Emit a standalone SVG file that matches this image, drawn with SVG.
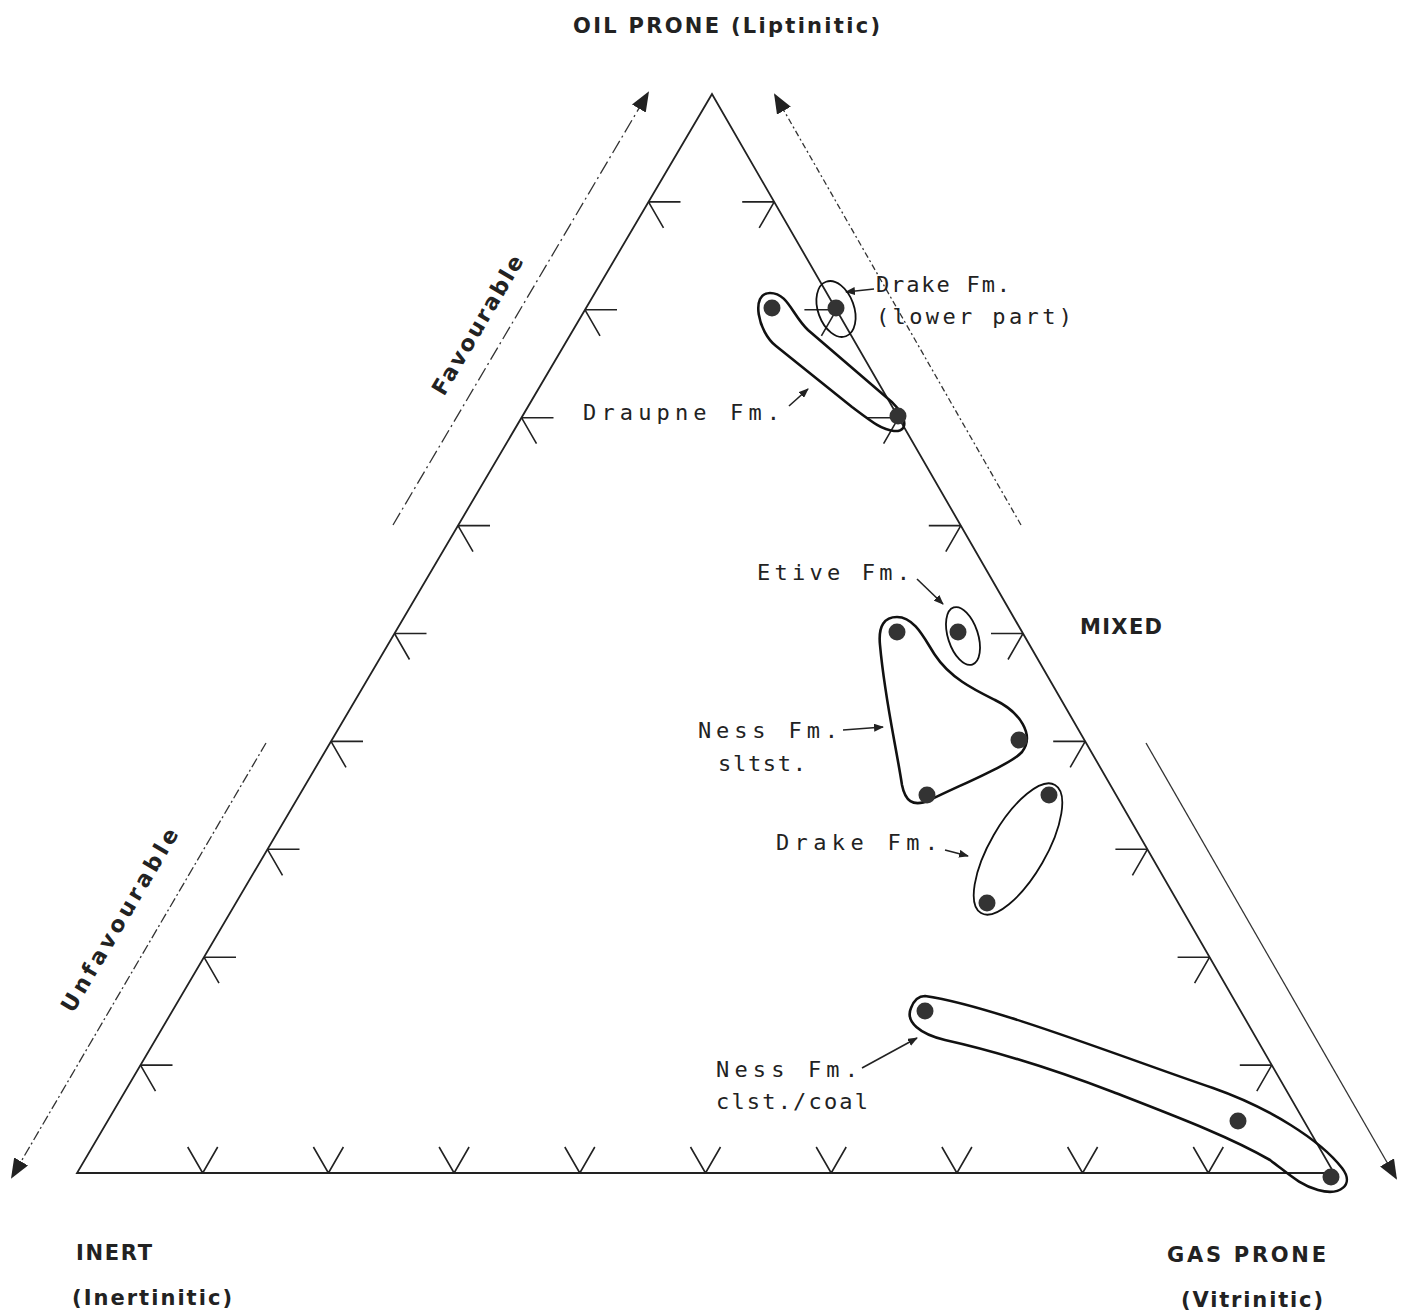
<svg xmlns="http://www.w3.org/2000/svg" width="1406" height="1316" viewBox="0 0 1406 1316">
<style>
text{font-family:"DejaVu Sans","Liberation Sans",sans-serif;fill:#222;}
.lbl{font-family:"DejaVu Sans Mono","Liberation Mono",monospace;font-size:22px;}
.cap{font-size:21px;font-weight:bold;}
.rot{font-size:22px;font-weight:bold;}
.tri{fill:none;stroke:#222;stroke-width:1.8;}
.tick{fill:none;stroke:#222;stroke-width:1.6;}
.blob{fill:none;stroke:#111;stroke-width:2.6;}
.ell{fill:none;stroke:#111;stroke-width:1.8;}
.dot{fill:#333;}
.ptr{fill:none;stroke:#222;stroke-width:1.6;marker-end:url(#sm);}
.dir{fill:none;stroke:#333;stroke-width:1.3;marker-end:url(#big);}
</style>
<defs>
<marker id="big" viewBox="0 0 20 16" refX="18" refY="8" markerWidth="20" markerHeight="16" markerUnits="userSpaceOnUse" orient="auto">
<path d="M0,0 L20,8 L0,16 Z" fill="#222"/>
</marker>
<marker id="sm" viewBox="0 0 10 8" refX="9" refY="4" markerWidth="10" markerHeight="8" markerUnits="userSpaceOnUse" orient="auto">
<path d="M0,0 L10,4 L0,8 Z" fill="#222"/>
</marker>
</defs>
<rect width="1406" height="1316" fill="#fff"/>

<g id="triangle">
<polygon class="tri" points="712,94 77,1173 1334,1173"/>
</g>

<g id="ticks">
<path class="tick" d="M648.5,201.9 h32 M648.5,201.9 l15,26 M585,309.8 h32 M585,309.8 l15,26 M521.5,417.7 h32 M521.5,417.7 l15,26 M458,525.6 h32 M458,525.6 l15,26 M394.5,633.5 h32 M394.5,633.5 l15,26 M331,741.4 h32 M331,741.4 l15,26 M267.5,849.3 h32 M267.5,849.3 l15,26 M204,957.2 h32 M204,957.2 l15,26 M140.5,1065.1 h32 M140.5,1065.1 l15,26"/>
<path class="tick" d="M774.2,201.9 h-32 M774.2,201.9 l-15,26 M836.4,309.8 h-32 M836.4,309.8 l-15,26 M898.6,417.7 h-32 M898.6,417.7 l-15,26 M960.8,525.6 h-32 M960.8,525.6 l-15,26 M1023,633.5 h-32 M1023,633.5 l-15,26 M1085.2,741.4 h-32 M1085.2,741.4 l-15,26 M1147.4,849.3 h-32 M1147.4,849.3 l-15,26 M1209.6,957.2 h-32 M1209.6,957.2 l-15,26 M1271.8,1065.1 h-32 M1271.8,1065.1 l-15,26"/>
<path class="tick" d="M202.7,1173 l-15,-26 M202.7,1173 l15,-26 M328.4,1173 l-15,-26 M328.4,1173 l15,-26 M454.1,1173 l-15,-26 M454.1,1173 l15,-26 M579.8,1173 l-15,-26 M579.8,1173 l15,-26 M705.5,1173 l-15,-26 M705.5,1173 l15,-26 M831.2,1173 l-15,-26 M831.2,1173 l15,-26 M956.9,1173 l-15,-26 M956.9,1173 l15,-26 M1082.6,1173 l-15,-26 M1082.6,1173 l15,-26 M1208.3,1173 l-15,-26 M1208.3,1173 l15,-26"/>
</g>

<g id="connectors">
<line class="dir" x1="393" y1="525" x2="648" y2="93" stroke-dasharray="14,4,2,4"/>
<line class="dir" x1="266" y1="743" x2="12" y2="1177" stroke-dasharray="10,3,2,3"/>
<line class="dir" x1="1021" y1="525" x2="775" y2="95" stroke-dasharray="6,3,2,3"/>
<line class="dir" x1="1146" y1="743" x2="1396" y2="1178"/>
<line class="ptr" x1="874" y1="289" x2="846" y2="292"/>
<line class="ptr" x1="789" y1="406" x2="808" y2="389"/>
<line class="ptr" x1="917" y1="579" x2="943" y2="604"/>
<line class="ptr" x1="843" y1="730" x2="883" y2="727"/>
<line class="ptr" x1="945" y1="850" x2="968" y2="856"/>
<line class="ptr" x1="862" y1="1068" x2="917" y2="1038"/>
</g>

<g id="draupne">
<path class="blob" d="M770,293 C 788,293 792,315 808,330 L 886,397 C 903,410 913,432 894,431 C 882,430 872,422 852,407 L 776,346 C 758,332 750,293 770,293 Z"/>
<circle class="dot" cx="772" cy="308" r="8.5"/>
<circle class="dot" cx="898" cy="416" r="8.5"/>
<text class="lbl" x="583" y="420" textLength="197" lengthAdjust="spacing">Draupne Fm.</text>
</g>

<g id="drake-lower">
<ellipse class="ell" cx="836" cy="309" rx="18" ry="29" transform="rotate(-20 836 309)"/>
<circle class="dot" cx="836" cy="308" r="8.5"/>
<text class="lbl" x="876" y="292" textLength="134" lengthAdjust="spacing">Drake Fm.</text>
<text class="lbl" x="876" y="324" textLength="196" lengthAdjust="spacing">(lower part)</text>
</g>

<g id="etive">
<ellipse class="ell" cx="963" cy="636" rx="15" ry="30" transform="rotate(-18 963 636)"/>
<circle class="dot" cx="958" cy="632" r="8.5"/>
<text class="lbl" x="757" y="580" textLength="153" lengthAdjust="spacing">Etive Fm.</text>
</g>

<g id="ness-sltst">
<path class="blob" d="M897,617 C 915,617 925,640 935,655 C 950,678 975,690 995,700 C 1020,712 1035,735 1022,752 C 1010,765 960,785 930,800 C 912,808 905,800 902,785 C 895,740 885,700 880,645 C 878,625 885,617 897,617 Z"/>
<circle class="dot" cx="897" cy="632" r="8.5"/>
<circle class="dot" cx="1019" cy="740" r="8.5"/>
<circle class="dot" cx="927" cy="795" r="8.5"/>
<text class="lbl" x="698" y="738" textLength="140" lengthAdjust="spacing">Ness Fm.</text>
<text class="lbl" x="718" y="771" textLength="88" lengthAdjust="spacing">sltst.</text>
</g>

<g id="drake">
<ellipse class="ell" cx="1018" cy="849" rx="28" ry="74" transform="rotate(30 1018 849)"/>
<circle class="dot" cx="1049" cy="795" r="8.5"/>
<circle class="dot" cx="987" cy="903" r="8.5"/>
<text class="lbl" x="776" y="850" textLength="162" lengthAdjust="spacing">Drake Fm.</text>
</g>

<g id="ness-clst">
<path class="blob" d="M925,996 C 990,1005 1130,1060 1213,1088 C 1270,1108 1320,1140 1342,1168 C 1355,1185 1340,1196 1318,1190 C 1300,1185 1290,1175 1270,1160 C 1230,1137 1180,1118 1113,1092 C 1050,1068 990,1050 945,1040 C 920,1034 905,1022 911,1008 C 914,1000 918,996 925,996 Z"/>
<circle class="dot" cx="925" cy="1011" r="8.5"/>
<circle class="dot" cx="1238" cy="1121" r="8.5"/>
<circle class="dot" cx="1331" cy="1177" r="8.5"/>
<text class="lbl" x="716" y="1077" textLength="142" lengthAdjust="spacing">Ness Fm.</text>
<text class="lbl" x="716" y="1109" textLength="152" lengthAdjust="spacing">clst./coal</text>
</g>

<g id="labels">
<text class="cap" x="573" y="33" textLength="307" lengthAdjust="spacing">OIL PRONE (Liptinitic)</text>
<text class="cap" x="1080" y="634" textLength="82" lengthAdjust="spacing">MIXED</text>
<text class="cap" x="76" y="1260" textLength="76" lengthAdjust="spacing">INERT</text>
<text class="cap" x="72" y="1305" textLength="160" lengthAdjust="spacing">(Inertinitic)</text>
<text class="cap" x="1167" y="1262" textLength="159" lengthAdjust="spacing">GAS PRONE</text>
<text class="cap" x="1181" y="1307" textLength="142" lengthAdjust="spacing">(Vitrinitic)</text>
<text class="rot" text-anchor="middle" textLength="158" lengthAdjust="spacing" transform="translate(484 329) rotate(-59.5)">Favourable</text>
<text class="rot" text-anchor="middle" textLength="209" lengthAdjust="spacing" transform="translate(126 924) rotate(-59.5)">Unfavourable</text>
</g>
</svg>
